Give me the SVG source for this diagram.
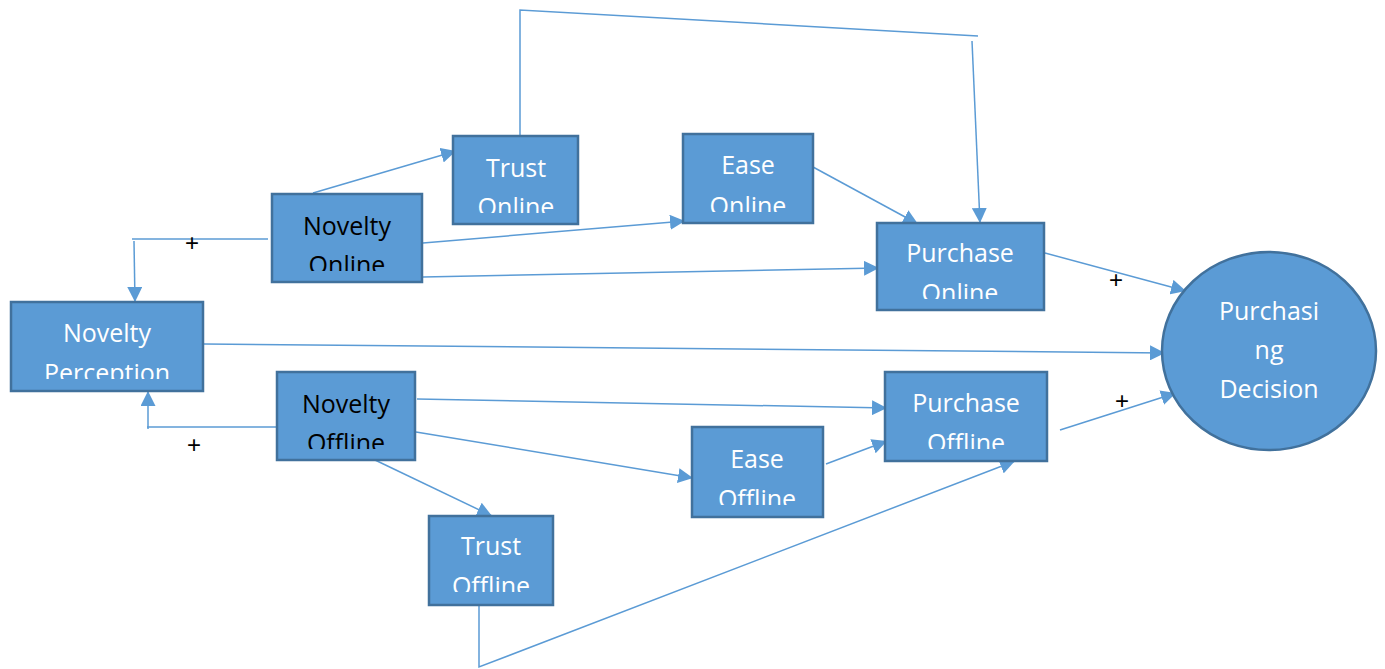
<svg xmlns="http://www.w3.org/2000/svg" width="1385" height="669" viewBox="0 0 1385 669">
  <style>
    .box { fill: #5B9BD5; stroke: #41719C; stroke-width: 2.5; }
    .lbl { font-family: "Open Sans", "Noto Sans", "Liberation Sans", sans-serif; font-size: 25px; text-anchor: middle; fill: #FFFFFF; }
    .dark { fill: #000000; }
    .wire { fill: none; stroke: #5B9BD5; stroke-width: 1.5; }
    .sign { font-family: "Liberation Sans", "DejaVu Sans", sans-serif; font-size: 24px; fill: #000000; text-anchor: middle; }
  </style>
  <defs>
    <marker id="arrow" markerUnits="userSpaceOnUse" markerWidth="15" markerHeight="15" refX="15" refY="7.5" orient="auto">
      <path d="M0,0 L15,7.5 L0,15 z" fill="#5B9BD5"/>
    </marker>
    <!-- text areas: second lines are cut at the inner edge of each box -->
    <clipPath id="c-no" clipPathUnits="userSpaceOnUse"><rect x="272" y="194" width="150" height="77"/></clipPath>
    <clipPath id="c-to" clipPathUnits="userSpaceOnUse"><rect x="453" y="136" width="125" height="77"/></clipPath>
    <clipPath id="c-eo" clipPathUnits="userSpaceOnUse"><rect x="683" y="134" width="130" height="78"/></clipPath>
    <clipPath id="c-po" clipPathUnits="userSpaceOnUse"><rect x="877" y="223" width="167" height="76"/></clipPath>
    <clipPath id="c-np" clipPathUnits="userSpaceOnUse"><rect x="11" y="302" width="192" height="77"/></clipPath>
    <clipPath id="c-nf" clipPathUnits="userSpaceOnUse"><rect x="277" y="372" width="138" height="77"/></clipPath>
    <clipPath id="c-tf" clipPathUnits="userSpaceOnUse"><rect x="429" y="516" width="124" height="76"/></clipPath>
    <clipPath id="c-ef" clipPathUnits="userSpaceOnUse"><rect x="692" y="427" width="131" height="78"/></clipPath>
    <clipPath id="c-pf" clipPathUnits="userSpaceOnUse"><rect x="885" y="372" width="162" height="77"/></clipPath>
  </defs>

  <rect width="1385" height="669" fill="#FFFFFF"/>

  <g id="connectors">
    <!-- Novelty Online -> Trust Online -->
    <line class="wire" x1="313" y1="193" x2="456" y2="151" marker-end="url(#arrow)"/>
    <!-- Trust Online -> Purchase Online (over the top) -->
    <polyline class="wire" points="520,135 520,10 978,36"/>
    <line class="wire" x1="972" y1="41" x2="980" y2="223" marker-end="url(#arrow)"/>
    <!-- Ease Online -> Purchase Online -->
    <line class="wire" x1="813" y1="167" x2="918" y2="224" marker-end="url(#arrow)"/>
    <!-- Novelty Online -> Ease Online -->
    <line class="wire" x1="423" y1="243" x2="685" y2="221" marker-end="url(#arrow)"/>
    <!-- Novelty Online -> Purchase Online -->
    <line class="wire" x1="423" y1="277" x2="879" y2="268" marker-end="url(#arrow)"/>
    <!-- Novelty Online -> Novelty Perception -->
    <polyline class="wire" points="268,239 132,239"/>
    <line class="wire" x1="134" y1="241" x2="135" y2="302" marker-end="url(#arrow)"/>
    <!-- Novelty Offline -> Novelty Perception -->
    <polyline class="wire" points="278,427 147,427"/>
    <line class="wire" x1="148" y1="429" x2="148" y2="391" marker-end="url(#arrow)"/>
    <!-- Novelty Perception -> Purchasing Decision -->
    <line class="wire" x1="204" y1="344" x2="1165" y2="353" marker-end="url(#arrow)"/>
    <!-- Purchase Online -> Purchasing Decision -->
    <line class="wire" x1="1045" y1="253" x2="1186" y2="291" marker-end="url(#arrow)"/>
    <!-- Purchase Offline -> Purchasing Decision -->
    <line class="wire" x1="1060" y1="430" x2="1176" y2="393" marker-end="url(#arrow)"/>
    <!-- Novelty Offline -> Purchase Offline -->
    <line class="wire" x1="417" y1="399" x2="887" y2="408" marker-end="url(#arrow)"/>
    <!-- Novelty Offline -> Ease Offline -->
    <line class="wire" x1="416" y1="432" x2="693" y2="478" marker-end="url(#arrow)"/>
    <!-- Ease Offline -> Purchase Offline -->
    <line class="wire" x1="826" y1="464" x2="887" y2="441" marker-end="url(#arrow)"/>
    <!-- Novelty Offline -> Trust Offline -->
    <line class="wire" x1="375" y1="460" x2="492" y2="516" marker-end="url(#arrow)"/>
    <!-- Trust Offline -> Purchase Offline (underneath) -->
    <polyline class="wire" points="479,606 479,667 1015,461" marker-end="url(#arrow)"/>
  </g>

  <g id="signs">
    <text class="sign" x="192" y="251">+</text>
    <text class="sign" x="194" y="453">+</text>
    <text class="sign" x="1116" y="288">+</text>
    <text class="sign" x="1122" y="409">+</text>
  </g>

  <g id="novelty-online">
    <rect class="box" x="272" y="194" width="150" height="88"/>
    <g clip-path="url(#c-no)">
      <text class="lbl dark" x="347" y="235">Novelty</text>
      <text class="lbl dark" x="347" y="274">Online</text>
    </g>
  </g>

  <g id="trust-online">
    <rect class="box" x="453" y="136" width="125" height="88"/>
    <g clip-path="url(#c-to)">
      <text class="lbl" x="516" y="177">Trust</text>
      <text class="lbl" x="516" y="216">Online</text>
    </g>
  </g>

  <g id="ease-online">
    <rect class="box" x="683" y="134" width="130" height="89"/>
    <g clip-path="url(#c-eo)">
      <text class="lbl" x="748" y="174">Ease</text>
      <text class="lbl" x="748" y="215">Online</text>
    </g>
  </g>

  <g id="purchase-online">
    <rect class="box" x="877" y="223" width="167" height="87"/>
    <g clip-path="url(#c-po)">
      <text class="lbl" x="960" y="262">Purchase</text>
      <text class="lbl" x="960" y="302">Online</text>
    </g>
  </g>

  <g id="novelty-perception">
    <rect class="box" x="11" y="302" width="192" height="89"/>
    <g clip-path="url(#c-np)">
      <text class="lbl" x="107" y="342">Novelty</text>
      <text class="lbl" x="107" y="382">Perception</text>
    </g>
  </g>

  <g id="novelty-offline">
    <rect class="box" x="277" y="372" width="138" height="88"/>
    <g clip-path="url(#c-nf)">
      <text class="lbl dark" x="346" y="413">Novelty</text>
      <text class="lbl dark" x="346" y="452">Offline</text>
    </g>
  </g>

  <g id="trust-offline">
    <rect class="box" x="429" y="516" width="124" height="89"/>
    <g clip-path="url(#c-tf)">
      <text class="lbl" x="491" y="555">Trust</text>
      <text class="lbl" x="491" y="595">Offline</text>
    </g>
  </g>

  <g id="ease-offline">
    <rect class="box" x="692" y="427" width="131" height="90"/>
    <g clip-path="url(#c-ef)">
      <text class="lbl" x="757" y="468">Ease</text>
      <text class="lbl" x="757" y="508">Offline</text>
    </g>
  </g>

  <g id="purchase-offline">
    <rect class="box" x="885" y="372" width="162" height="89"/>
    <g clip-path="url(#c-pf)">
      <text class="lbl" x="966" y="412">Purchase</text>
      <text class="lbl" x="966" y="452">Offline</text>
    </g>
  </g>

  <g id="purchasing-decision">
    <ellipse class="box" cx="1269" cy="351" rx="107" ry="99"/>
    <text class="lbl" x="1269" y="320">Purchasi</text>
    <text class="lbl" x="1269" y="359">ng</text>
    <text class="lbl" x="1269" y="398">Decision</text>
  </g>
</svg>
